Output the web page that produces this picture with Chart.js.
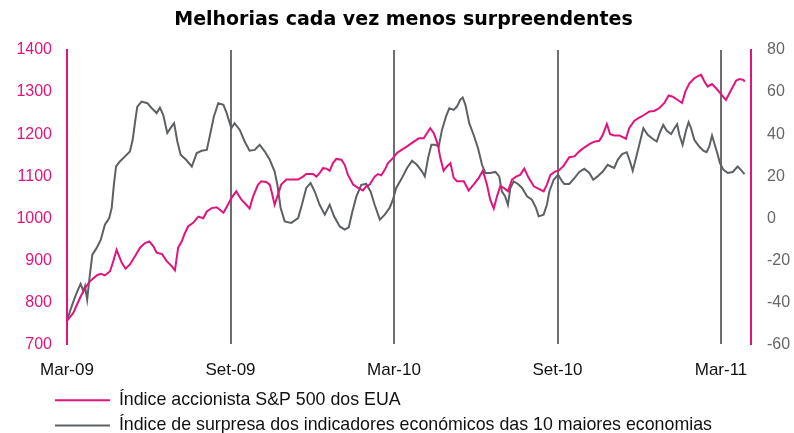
<!DOCTYPE html>
<html>
<head>
<meta charset="utf-8">
<script src="https://cdn.jsdelivr.net/npm/chart.js@4.4.1/dist/chart.umd.min.js"></script>
<style>
  html, body { margin: 0; padding: 0; background: #fff; }
  #wrap { width: 794px; height: 433px; }
</style>
</head>
<body>
<div id="wrap"><canvas id="chart"></canvas></div>
<script>
"use strict"

// eixo x em meses desde Mar-09
const tickMonths = [0, 6, 12, 18, 24];
const tickLabels = ['Mar-09', 'Set-09', 'Mar-10', 'Set-10', 'Mar-11'];

// S&P 500 (eixo esquerdo)
const spxMonths = [0.01, 0.23, 0.48, 0.66, 0.84, 1.09, 1.24, 1.39, 1.58, 1.70, 1.82, 2.01, 2.15, 2.31, 2.50, 2.68, 2.86, 3.02, 3.17, 3.29,
  3.48, 3.66, 3.84, 3.96, 4.08, 4.21, 4.33, 4.45, 4.63, 4.82, 5.00, 5.13, 5.31, 5.49, 5.61, 5.74, 5.92, 6.03, 6.21, 6.40,
  6.58, 6.70, 6.83, 7.01, 7.13, 7.31, 7.44, 7.52, 7.62, 7.74, 7.86, 8.05, 8.23, 8.48, 8.66, 8.78, 9.03, 9.15, 9.27, 9.39,
  9.52, 9.64, 9.76, 9.88, 10.07, 10.19, 10.31, 10.50, 10.68, 10.86, 10.98, 11.11, 11.29, 11.41, 11.53, 11.66, 11.78, 11.96, 12.11, 12.29,
  12.48, 12.66, 12.91, 13.09, 13.21, 13.33, 13.46, 13.61, 13.70, 13.82, 13.94, 14.07, 14.19, 14.31, 14.56, 14.74, 14.92, 15.11, 15.26, 15.41,
  15.53, 15.66, 15.78, 15.90, 16.03, 16.18, 16.33, 16.48, 16.63, 16.78, 16.94, 17.13, 17.31, 17.49, 17.61, 17.74, 17.92, 18.04, 18.23, 18.43,
  18.62, 18.80, 18.98, 19.17, 19.35, 19.53, 19.66, 19.81, 19.93, 20.08, 20.27, 20.51, 20.63, 20.82, 21.00, 21.19, 21.37, 21.55, 21.74, 21.92,
  22.08, 22.23, 22.41, 22.57, 22.69, 22.84, 23.02, 23.18, 23.27, 23.39, 23.51, 23.67, 23.82, 24.00, 24.18, 24.37, 24.55, 24.67, 24.82, 24.87];
const spxValues = [757, 775, 811, 834, 850, 864, 868, 864, 874, 898, 925, 894, 880, 890, 910, 930, 941, 945, 933, 918,
  915, 898, 886, 876, 930, 945, 965, 981, 989, 1004, 1000, 1016, 1024, 1026, 1020, 1013, 1034, 1048, 1064, 1044,
  1032, 1023, 1052, 1080, 1088, 1086, 1080, 1060, 1032, 1056, 1080, 1092, 1092, 1092, 1099, 1105, 1105, 1099, 1107, 1119,
  1118, 1113, 1131, 1141, 1139, 1127, 1103, 1080, 1072, 1066, 1076, 1080, 1099, 1105, 1102, 1115, 1131, 1143, 1155, 1163,
  1171, 1179, 1190, 1190, 1202, 1214, 1202, 1175, 1143, 1113, 1123, 1131, 1096, 1088, 1088, 1066, 1080, 1096, 1113, 1080,
  1044, 1023, 1052, 1076, 1072, 1064, 1092, 1099, 1103, 1118, 1096, 1076, 1070, 1064, 1080, 1103, 1111, 1113, 1125, 1145,
  1147, 1159, 1168, 1176, 1182, 1184, 1198, 1224, 1200, 1197, 1197, 1189, 1214, 1232, 1239, 1246, 1254, 1255, 1262, 1274,
  1292, 1289, 1281, 1274, 1301, 1321, 1333, 1339, 1341, 1325, 1313, 1319, 1309, 1295, 1281, 1305, 1327, 1331, 1329, 1325];

// índice de surpresa (eixo direito)
const surpMonths = [0.01, 0.11, 0.26, 0.38, 0.50, 0.60, 0.66, 0.74, 0.84, 0.93, 1.09, 1.24, 1.39, 1.55, 1.64, 1.72, 1.80, 1.94, 2.13, 2.31,
  2.41, 2.50, 2.58, 2.74, 2.95, 3.11, 3.29, 3.41, 3.53, 3.68, 3.81, 3.93, 4.05, 4.17, 4.37, 4.58, 4.76, 4.94, 5.13, 5.25,
  5.39, 5.55, 5.74, 5.86, 6.03, 6.15, 6.34, 6.52, 6.70, 6.89, 7.07, 7.26, 7.44, 7.62, 7.72, 7.84, 7.99, 8.23, 8.48, 8.62,
  8.78, 8.94, 9.09, 9.27, 9.46, 9.64, 9.80, 10.01, 10.19, 10.34, 10.46, 10.62, 10.80, 10.98, 11.14, 11.29, 11.48, 11.66, 11.84, 11.96,
  12.08, 12.29, 12.48, 12.66, 12.84, 13.03, 13.13, 13.25, 13.37, 13.52, 13.64, 13.76, 13.91, 14.03, 14.19, 14.31, 14.43, 14.52, 14.62, 14.76,
  14.92, 15.08, 15.23, 15.35, 15.53, 15.72, 15.86, 15.96, 16.08, 16.18, 16.27, 16.39, 16.55, 16.70, 16.88, 17.06, 17.21, 17.31, 17.49, 17.61,
  17.70, 17.86, 18.02, 18.17, 18.25, 18.43, 18.62, 18.80, 18.98, 19.17, 19.31, 19.47, 19.66, 19.84, 19.96, 20.08, 20.21, 20.37, 20.54, 20.66,
  20.76, 20.88, 21.00, 21.15, 21.31, 21.49, 21.64, 21.76, 21.88, 22.01, 22.17, 22.29, 22.39, 22.47, 22.59, 22.72, 22.81, 22.90, 23.02, 23.20,
  23.35, 23.47, 23.57, 23.67, 23.77, 23.88, 23.96, 24.09, 24.25, 24.43, 24.61, 24.73, 24.86];
const surpValues = [-48.6, -44.2, -38.7, -34.7, -31.2, -34.7, -32.3, -38.7, -26.8, -17.3, -14.1, -10.2, -3.1, 0.1, 4.9, 15.9, 24.6, 27, 29.4, 31.7,
  37.3, 46, 53.1, 55.5, 54.7, 52.3, 50, 52.6, 49.2, 40.5, 43.1, 45.2, 36.5, 30.2, 27.8, 24.6, 31, 32.1, 32.5, 39.7,
  48.4, 54.7, 53.9, 50, 42.8, 45.2, 42, 36.5, 32.1, 32.5, 34.9, 31.7, 27.8, 22.2, 15.9, 4.9, -1.5, -2.2, 0.1, 6.4,
  14.4, 16.7, 12.7, 6.4, 1.7, 6.4, 0.9, -3.9, -5.4, -4.3, 2.5, 10.4, 15.9, 16.3, 12.7, 6.4, -0.7, 1.7, 4.9, 8.8,
  14.4, 19.1, 23.9, 27.3, 25.4, 22.2, 19.9, 28.6, 34.9, 34.9, 34.1, 42, 48.4, 52.3, 51.5, 53.1, 56.3, 57.4, 53.9, 45.2,
  39.7, 33.4, 25.4, 21.5, 21.5, 22, 19.9, 12.7, 10.4, 6.4, 14.4, 17.5, 16.3, 14.4, 10.4, 8.8, 4.9, 0.9, 1.7, 6.4,
  12.7, 18.3, 20.7, 17.5, 16.3, 16.3, 19.1, 22, 23.5, 21.5, 18.3, 19.9, 22.2, 25.4, 24.6, 23.9, 27.8, 30.5, 31.4, 27,
  22.6, 28.6, 34.9, 42.8, 39.7, 37.8, 36.5, 40.9, 44.4, 41.6, 40, 42.8, 44.7, 39.7, 34.9, 42, 45.7, 42.8, 37.3, 34.1,
  32.1, 31.4, 34.1, 39.3, 34.9, 30.2, 26.2, 23, 21.5, 22, 24.6, 23, 21];

const pink = '#e2137d';
const grey = '#5d6163';

function toPoints(xs, ys) {
    return xs.map((x, i) => ({ x: x, y: ys[i] }));
}

// desloca a legenda e o título para a posição do original
const shiftBlocks = {
    id: 'shiftBlocks',
    afterLayout(chart) {
        if (chart.legend) {
            chart.legend.left += 47.5;
            chart.legend.right += 47.5;
        }
        if (chart.titleBlock) {
            chart.titleBlock.left += 6.5;
            chart.titleBlock.right += 6.5;
        }
    }
};

const ctx = document.getElementById('chart');

const myChart = new Chart(ctx, {
    type: 'line',
    data: {
        datasets: [{
            label: 'Índice accionista S&P 500 dos EUA',
            data: toPoints(spxMonths, spxValues),
            yAxisID: 'y',
            borderColor: pink,
            backgroundColor: pink,
            borderWidth: 2,
            pointRadius: 0,
            tension: 0
        }, {
            label: 'Índice de surpresa dos indicadores económicos das 10 maiores economias',
            data: toPoints(surpMonths, surpValues),
            yAxisID: 'y2',
            borderColor: grey,
            backgroundColor: grey,
            borderWidth: 2,
            pointRadius: 0,
            tension: 0
        }]
    },
    plugins: [shiftBlocks],
    options: {
        responsive: true,
        maintainAspectRatio: false,
        animation: false,
        layout: {
            padding: { left: 0, right: 0, top: 0, bottom: -11.5 }
        },
        plugins: {
            title: {
                display: true,
                text: 'Melhorias cada vez menos surpreendentes',
                color: '#000',
                font: { family: 'DejaVu Sans', size: 19, weight: 'bold' },
                padding: { top: 8.5, bottom: 18.7 }
            },
            legend: {
                display: true,
                position: 'bottom',
                align: 'start',
                labels: {
                    usePointStyle: true,
                    pointStyle: 'line',
                    pointStyleWidth: 55,
                    color: '#111',
                    padding: 7.5,
                    font: { family: 'Liberation Sans', size: 17.8 }
                }
            },
            tooltip: { enabled: false }
        },
        scales: {
            x: {
                type: 'linear',
                min: 0,
                max: 25.1,
                afterBuildTicks: function (scale) {
                    scale.ticks = tickMonths.map(v => ({ value: v }));
                },
                afterFit: function (scale) {
                    scale.height = 39.5;
                },
                ticks: {
                    autoSkip: false,
                    maxRotation: 0,
                    padding: 16,
                    color: '#111',
                    font: { family: 'Liberation Sans', size: 17 },
                    callback: function (value) {
                        return tickLabels[tickMonths.indexOf(value)];
                    }
                },
                grid: {
                    drawTicks: false,
                    lineWidth: 2,
                    color: function (c) {
                        return c.tick && c.tick.value === 0 ? 'rgba(0,0,0,0)' : '#6e6e6e';
                    }
                },
                border: { display: false }
            },
            y: {
                position: 'left',
                min: 700,
                max: 1400,
                afterFit: function (scale) {
                    scale.width = 67;
                },
                ticks: {
                    stepSize: 100,
                    padding: 15,
                    color: pink,
                    font: { family: 'Liberation Sans', size: 16 },
                    callback: function (value) {
                        return String(value);
                    }
                },
                grid: { display: false, drawTicks: false },
                border: { display: true, color: pink, width: 2 }
            },
            y2: {
                position: 'right',
                min: -60,
                max: 80,
                afterFit: function (scale) {
                    scale.width = 43;
                },
                ticks: {
                    stepSize: 20,
                    padding: 16,
                    color: '#666',
                    font: { family: 'Liberation Sans', size: 16 },
                    callback: function (value) {
                        return String(value);
                    }
                },
                grid: { display: false, drawTicks: false },
                border: { display: true, color: pink, width: 2 }
            }
        }
    }
});
</script>
</body>
</html>
